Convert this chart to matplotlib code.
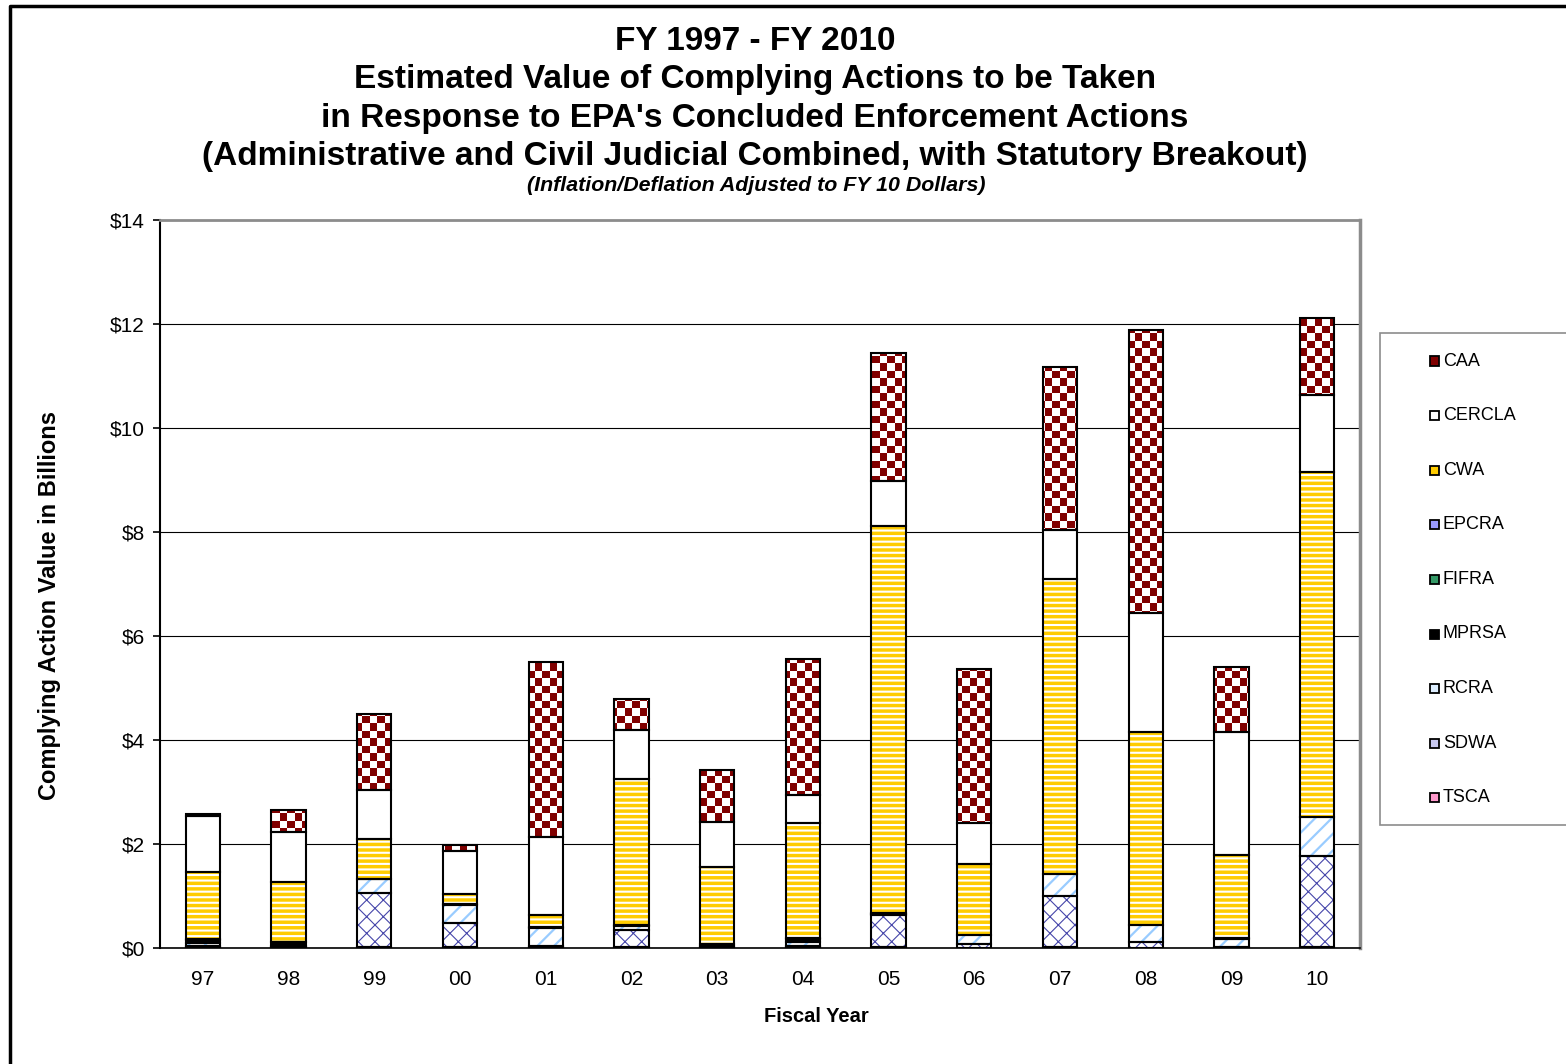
import matplotlib
matplotlib.use("Agg")
import matplotlib.pyplot as plt
import numpy as np
from matplotlib.colors import ListedColormap
from matplotlib.lines import Line2D
from matplotlib.patches import Rectangle
from matplotlib.path import Path

plt.rcParams["font.family"] = ["Liberation Sans", "DejaVu Sans"]

# Fiscal years on the x axis
years = ["97", "98", "99", "00", "01", "02", "03", "04", "05", "06", "07", "08", "09", "10"]

# Stacked values in $ billions, bottom to top
tsca = [0.01, 0.01, 0.01, 0.01, 0.01, 0.01, 0.00, 0.01, 0.01, 0.00, 0.01, 0.00, 0.00, 0.01]
sdwa = [0.03, 0.01, 1.05, 0.47, 0.02, 0.34, 0.01, 0.02, 0.62, 0.07, 0.99, 0.12, 0.01, 1.75]
rcra = [0.05, 0.02, 0.26, 0.35, 0.36, 0.08, 0.02, 0.09, 0.03, 0.18, 0.42, 0.32, 0.17, 0.75]
mprsa = [0.06, 0.07, 0.00, 0.00, 0.00, 0.00, 0.04, 0.06, 0.00, 0.00, 0.00, 0.00, 0.02, 0.00]
fifra = [0.00, 0.00, 0.00, 0.00, 0.00, 0.00, 0.00, 0.00, 0.00, 0.00, 0.00, 0.00, 0.00, 0.00]
epcra = [0.02, 0.01, 0.01, 0.01, 0.01, 0.01, 0.00, 0.01, 0.01, 0.00, 0.00, 0.00, 0.00, 0.00]
cwa = [1.29, 1.15, 0.76, 0.19, 0.24, 2.81, 1.49, 2.21, 7.45, 1.37, 5.68, 3.71, 1.59, 6.64]
cercla = [1.08, 0.97, 0.95, 0.84, 1.50, 0.94, 0.87, 0.54, 0.86, 0.79, 0.94, 2.29, 2.36, 1.48]
caa = [0.04, 0.41, 1.46, 0.11, 3.36, 0.60, 0.99, 2.62, 2.46, 2.95, 3.13, 5.44, 1.25, 1.49]

series_names = ["TSCA", "SDWA", "RCRA", "MPRSA", "FIFRA", "EPCRA", "CWA", "CERCLA", "CAA"]
series_values = [tsca, sdwa, rcra, mprsa, fifra, epcra, cwa, cercla, caa]

y_ticks = [0, 2, 4, 6, 8, 10, 12, 14]
y_tick_labels = ["$0", "$2", "$4", "$6", "$8", "$10", "$12", "$14"]

# fill style per statute: face colour, hatch, hatch colour, hatch width
styles = {
    "TSCA": ("#FF99CC", "\\\\", "white", 1.0),
    "SDWA": ("white", "xx", "#4646AA", 0.8),
    "RCRA": ("white", "//", "#99CCFF", 1.6),
    "MPRSA": ("black", None, "black", 1.0),
    "FIFRA": ("#339966", None, "#339966", 1.0),
    "EPCRA": ("#9999FF", None, "#9999FF", 1.0),
    "CWA": ("#FFCC00", "---", "white", 1.5),
    "CERCLA": ("white", None, "white", 1.0),
    "CAA": ("white", None, "white", 1.0),
}
legend_colors = {
    "CAA": "#800000", "CERCLA": "white", "CWA": "#FFCC00", "EPCRA": "#9999FF",
    "FIFRA": "#339966", "MPRSA": "black", "RCRA": "#DDEEFF", "SDWA": "#C8C8F0",
    "TSCA": "#FF99CC",
}

W, H = 1566, 1064
fig = plt.figure(figsize=(W / 100, H / 100), dpi=100)


def fx(px):
    return px / W


def fy(py):
    return 1 - py / H


ax = fig.add_axes([fx(160), fy(948), fx(1360) - fx(160), fy(220) - fy(948)])
x = np.arange(len(years))
bar_w = 0.4

bottom = np.zeros(len(years))
caa_paths = []
for name, vals in zip(series_names, series_values):
    vals = np.array(vals, dtype=float)
    face, hatch, hcolor, hlw = styles[name]
    with plt.rc_context({"hatch.linewidth": hlw}):
        fill = ax.bar(x, vals, bar_w, bottom=bottom, color=face, edgecolor=hcolor,
                      linewidth=0, hatch=hatch, zorder=2)
    for p in fill:
        if hasattr(p, "set_hatch_linewidth"):
            p.set_hatch_linewidth(hlw)
    lws = np.where(vals > 0, 1.5, 0.0)
    ax.bar(x, vals, bar_w, bottom=bottom, fill=False, edgecolor="black",
           linewidth=lws, zorder=4)
    if name == "CAA":
        for p in fill:
            caa_paths.append(p.get_path().transformed(p.get_patch_transform()))
    bottom += vals

# checkerboard for CAA, clipped to its bars
ncols, nrows = 160, 98
checker = np.add.outer(np.arange(nrows), np.arange(ncols)) % 2
img = ax.imshow(checker, cmap=ListedColormap(["white", "#800000"]),
                extent=(-0.5, 13.5, 0, nrows * 7.5 / 728 * 14), origin="lower",
                aspect="auto", interpolation="nearest", zorder=3)
img.set_clip_path(Path.make_compound_path(*caa_paths), ax.transData)

ax.set_xlim(-0.5, 13.5)
ax.set_ylim(0, 14)
ax.set_yticks(y_ticks)
ax.set_yticklabels(y_tick_labels, fontsize=15)
ax.set_xticks(x)
ax.set_xticklabels(years, fontsize=15)
ax.tick_params(axis="x", length=0, pad=16)
ax.tick_params(axis="y", length=5, width=1.2, pad=6, direction="out")
ax.set_axisbelow(True)
ax.yaxis.grid(True, color="black", linewidth=0.8)
ax.spines["left"].set_color("black")
ax.spines["left"].set_linewidth(1.5)
ax.spines["bottom"].set_color("black")
ax.spines["bottom"].set_linewidth(1.2)
ax.spines["top"].set_color("#8C8C8C")
ax.spines["top"].set_linewidth(2)
ax.spines["right"].set_color("#8C8C8C")
ax.spines["right"].set_linewidth(2.5)

# titles
title_lines = [
    "FY 1997 - FY 2010",
    "Estimated Value of Complying Actions to be Taken",
    "in Response to EPA's Concluded Enforcement Actions",
    "(Administrative and Civil Judicial Combined, with Statutory Breakout)",
]
for i, line in enumerate(title_lines):
    fig.text(fx(755), fy(50 + i * 38.3), line, ha="center", va="baseline",
             fontsize=24, fontweight="bold")
fig.text(fx(756), fy(191), "(Inflation/Deflation Adjusted to FY 10 Dollars)",
         ha="center", va="baseline", fontsize=15.4, fontweight="bold", style="italic")

fig.text(fx(50), fy(605), "Complying Action Value in Billions", rotation=90,
         ha="center", va="center", fontsize=17, fontweight="bold")
fig.text(fx(816), fy(1016), "Fiscal Year", ha="center", va="center",
         fontsize=14.5, fontweight="bold")

# legend, drawn by hand to match the spacing
fig.add_artist(Rectangle((fx(1380), fy(825)), fx(1572) - fx(1380), fy(333) - fy(825),
                         transform=fig.transFigure, facecolor="white",
                         edgecolor="#8C8C8C", linewidth=1.2))
for i, name in enumerate(reversed(series_names)):
    yc = 361 + i * 54.6
    fig.add_artist(Rectangle((fx(1430), fy(yc + 4.5)), fx(9), 9 / H,
                             transform=fig.transFigure, facecolor=legend_colors[name],
                             edgecolor="black", linewidth=1.3))
    fig.text(fx(1443), fy(yc), name, ha="left", va="center", fontsize=13)

# outer frame
fig.add_artist(Line2D([fx(9.5), fx(9.5), fx(1570)], [fy(1070), fy(5.5), fy(5.5)],
                      transform=fig.transFigure, color="black", linewidth=2.5))

fig.savefig("out.png", dpi=100)
